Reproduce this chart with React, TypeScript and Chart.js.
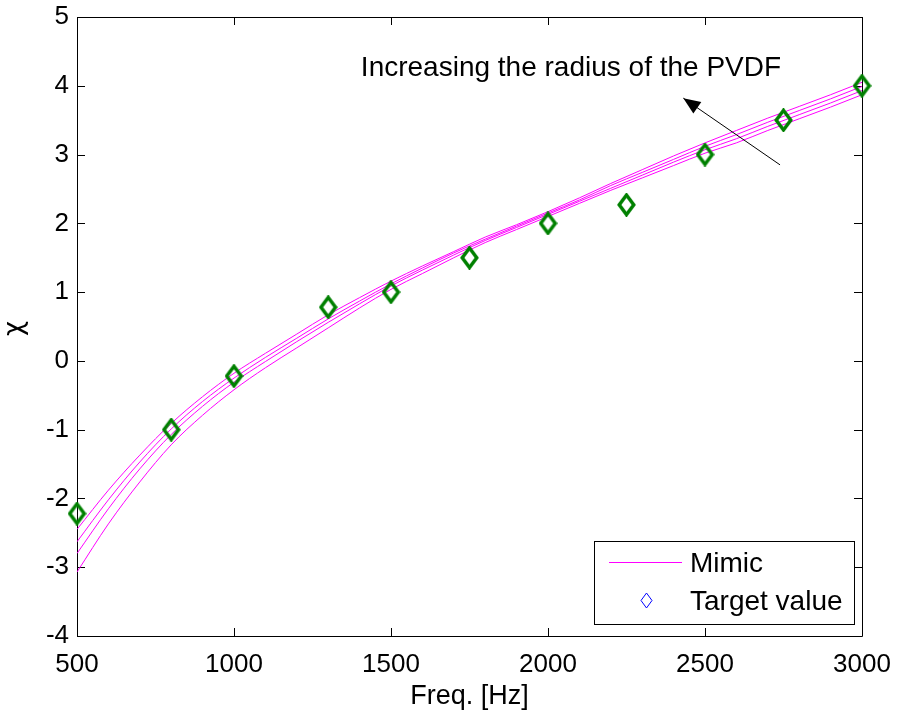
import React, { useEffect, useRef } from 'react';
import { Chart, registerables } from 'chart.js';
Chart.register(...registerables);

const freqs = [500, 600, 700, 800, 900, 1000, 1100, 1200, 1300, 1400, 1500, 1600, 1700, 1800, 1900, 2000, 2100, 2200, 2300, 2400, 2500, 2600, 2700, 2800, 2900, 3000];
const mimic1 = [-2.45, -1.88, -1.37, -0.91, -0.52, -0.18, 0.11, 0.39, 0.67, 0.92, 1.16, 1.38, 1.59, 1.8, 1.98, 2.17, 2.37, 2.58, 2.78, 2.98, 3.17, 3.35, 3.53, 3.7, 3.87, 4.05];
const mimic2 = [-2.63, -2.02, -1.47, -0.99, -0.59, -0.25, 0.05, 0.33, 0.61, 0.87, 1.12, 1.35, 1.57, 1.77, 1.96, 2.15, 2.34, 2.55, 2.74, 2.93, 3.12, 3.29, 3.47, 3.64, 3.81, 3.99];
const mimic3 = [-2.8, -2.15, -1.57, -1.07, -0.66, -0.31, -0.01, 0.28, 0.56, 0.83, 1.09, 1.32, 1.54, 1.75, 1.94, 2.13, 2.32, 2.51, 2.7, 2.89, 3.07, 3.23, 3.41, 3.58, 3.75, 3.93];
const mimic4 = [-3.07, -2.37, -1.76, -1.22, -0.79, -0.42, -0.1, 0.19, 0.48, 0.77, 1.04, 1.27, 1.5, 1.72, 1.91, 2.1, 2.29, 2.48, 2.66, 2.84, 3.02, 3.17, 3.35, 3.52, 3.69, 3.87];
const mimicSeries = [mimic1, mimic2, mimic3, mimic4];

const targetFreqs = [500, 800, 1000, 1300, 1500, 1750, 2000, 2250, 2500, 2750, 3000];
const targetValues = [-2.22, -1.0, -0.22, 0.78, 1.0, 1.5, 2.0, 2.27, 3.0, 3.5, 4.0];

const xTicks = [500, 1000, 1500, 2000, 2500, 3000];
const yTicks = [-4, -3, -2, -1, 0, 1, 2, 3, 4, 5];

const xTitle = 'Freq. [Hz]';
const yTitle = 'χ';
const annotationText = 'Increasing the radius of the PVDF';
const annotationPos = { x: 1404, y: 4.14 };
const arrowTail = { x: 2739, y: 2.85 };
const arrowHead = { x: 2431, y: 3.82 };
const legendLabels = ['Mimic', 'Target value'];

const FONT = '"Liberation Sans", Arial, Helvetica, sans-serif';

function makeDiamond(w: number, h: number, lw: number, color: string) {
  const c = document.createElement('canvas');
  c.width = w;
  c.height = h;
  const ctx = c.getContext('2d')!;
  ctx.strokeStyle = color;
  ctx.lineWidth = lw;
  ctx.lineJoin = 'miter';
  const p = lw / 2 + 0.5;
  ctx.beginPath();
  ctx.moveTo(w / 2, p);
  ctx.lineTo(w - p, h / 2);
  ctx.lineTo(w / 2, h - p);
  ctx.lineTo(p, h / 2);
  ctx.closePath();
  ctx.stroke();
  return c;
}

export default function App() {
  const ref = useRef<HTMLCanvasElement | null>(null);

  useEffect(() => {
    document.body.style.margin = '0';
    const canvas = ref.current!;
    const diamond = makeDiamond(19, 24, 3.5, '#008000');
    const legendDiamond = makeDiamond(13, 17, 1, '#0000ff');

    const frame = {
      id: 'frame',
      beforeDatasetsDraw(chart: any) {
        const { ctx, chartArea: a, scales } = chart;
        ctx.save();
        ctx.strokeStyle = '#000';
        ctx.lineWidth = 1;
        ctx.beginPath();
        ctx.rect(Math.round(a.left) + 0.5, Math.round(a.top) + 0.5, Math.round(a.right - a.left), Math.round(a.bottom - a.top));
        ctx.stroke();
        const tl = 8;
        ctx.beginPath();
        for (const t of xTicks) {
          const px = Math.round(scales.x.getPixelForValue(t)) + 0.5;
          ctx.moveTo(px, a.bottom);
          ctx.lineTo(px, a.bottom - tl);
          ctx.moveTo(px, a.top);
          ctx.lineTo(px, a.top + tl);
        }
        for (const t of yTicks) {
          const py = Math.round(scales.y.getPixelForValue(t)) + 0.5;
          ctx.moveTo(a.left, py);
          ctx.lineTo(a.left + tl, py);
          ctx.moveTo(a.right, py);
          ctx.lineTo(a.right - tl, py);
        }
        ctx.stroke();
        ctx.restore();
      },
      afterDraw(chart: any) {
        const { ctx, chartArea: a, scales } = chart;
        ctx.save();
        ctx.fillStyle = '#000';
        // axis titles
        ctx.font = `27px ${FONT}`;
        ctx.textAlign = 'center';
        ctx.textBaseline = 'alphabetic';
        ctx.fillText(xTitle, (a.left + a.right) / 2, 704);
        ctx.save();
        ctx.translate(22, (a.top + a.bottom) / 2 + 2);
        ctx.rotate(-Math.PI / 2);
        ctx.font = `26px "DejaVu Sans", ${FONT}`;
        ctx.fillText(yTitle, 0, 0);
        ctx.restore();

        // annotation
        ctx.font = `28px ${FONT}`;
        ctx.textAlign = 'left';
        ctx.fillText(annotationText, scales.x.getPixelForValue(annotationPos.x), scales.y.getPixelForValue(annotationPos.y));
        const tx = scales.x.getPixelForValue(arrowTail.x);
        const ty = scales.y.getPixelForValue(arrowTail.y);
        const hx = scales.x.getPixelForValue(arrowHead.x);
        const hy = scales.y.getPixelForValue(arrowHead.y);
        const ang = Math.atan2(hy - ty, hx - tx);
        ctx.strokeStyle = '#000';
        ctx.lineWidth = 1;
        ctx.beginPath();
        ctx.moveTo(tx, ty);
        ctx.lineTo(hx, hy);
        ctx.stroke();
        const L = 17, W = 7;
        const bx = hx - L * Math.cos(ang);
        const by = hy - L * Math.sin(ang);
        ctx.beginPath();
        ctx.moveTo(hx, hy);
        ctx.lineTo(bx + W * Math.sin(ang), by - W * Math.cos(ang));
        ctx.lineTo(bx - W * Math.sin(ang), by + W * Math.cos(ang));
        ctx.closePath();
        ctx.fill();

        // legend
        const lr = Math.round(a.right) - 8;
        const lb = Math.round(a.bottom) - 12;
        const ll = lr - 260;
        const lt = lb - 83;
        ctx.fillStyle = '#fff';
        ctx.fillRect(ll, lt, lr - ll, lb - lt);
        ctx.strokeStyle = '#000';
        ctx.strokeRect(ll + 0.5, lt + 0.5, lr - ll, lb - lt);
        ctx.strokeStyle = '#ff00ff';
        ctx.beginPath();
        ctx.moveTo(ll + 15, lt + 21.5);
        ctx.lineTo(ll + 88, lt + 21.5);
        ctx.stroke();
        ctx.drawImage(legendDiamond, ll + 52 - 6, lt + 59 - 8);
        ctx.fillStyle = '#000';
        ctx.font = `28px ${FONT}`;
        ctx.textBaseline = 'middle';
        ctx.fillText(legendLabels[0], ll + 96, lt + 23);
        ctx.fillText(legendLabels[1], ll + 96, lt + 61);
        ctx.restore();
      },
    };

    const datasets: any[] = [
      {
        type: 'scatter',
        label: legendLabels[1],
        data: targetFreqs.map((f, i) => ({ x: f, y: targetValues[i] })),
        pointStyle: diamond,
        pointRadius: 10,
        showLine: false,
        clip: false,
      },
      ...mimicSeries.map((s, k) => ({
        type: 'line',
        label: legendLabels[0] + ' ' + (k + 1),
        data: freqs.map((f, i) => ({ x: f, y: s[i] })),
        borderColor: '#ff00ff',
        borderWidth: 1,
        pointRadius: 0,
        fill: false,
        cubicInterpolationMode: 'monotone',
      })),
    ];

    const chart = new Chart(canvas, {
      type: 'line',
      data: { datasets },
      options: {
        animation: false,
        responsive: false,
        devicePixelRatio: 1,
        layout: { padding: { left: 0, top: 17, right: 39, bottom: 0 } },
        plugins: { legend: { display: false }, tooltip: { enabled: false } },
        scales: {
          x: {
            type: 'linear',
            min: 500,
            max: 3000,
            afterFit: (s: any) => { s.height = 80; s.paddingLeft = 0; s.paddingRight = 0; },
            afterBuildTicks: (s: any) => { s.ticks = xTicks.map((v) => ({ value: v })); },
            grid: { display: false, drawTicks: false },
            border: { display: false },
            ticks: { color: '#000', font: { size: 26, family: FONT }, padding: 13, maxRotation: 0, callback: (v: any) => String(v) },
          },
          y: {
            type: 'linear',
            min: -4,
            max: 5,
            afterFit: (s: any) => { s.width = 77; s.paddingTop = 0; s.paddingBottom = 0; },
            afterBuildTicks: (s: any) => { s.ticks = yTicks.map((v) => ({ value: v })); },
            grid: { display: false, drawTicks: false },
            border: { display: false },
            ticks: { color: '#000', font: { size: 26, family: FONT }, padding: 8, callback: (v: any) => String(v) },
          },
        },
      },
      plugins: [frame],
    } as any);
    return () => chart.destroy();
  }, []);

  return (
    <div style={{ width: 901, height: 716 }}>
      <canvas ref={ref} width={901} height={716} style={{ display: 'block' }} />
    </div>
  );
}
